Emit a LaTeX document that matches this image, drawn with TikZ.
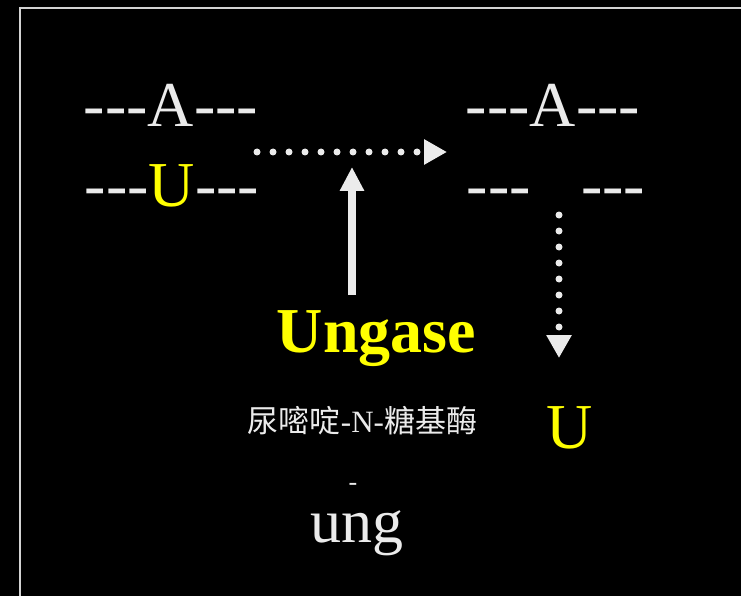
\documentclass[tikz,border=0pt]{standalone}
\usepackage{fontspec}
\setmainfont{Liberation Serif}
\newfontfamily\cjk{Noto Sans CJK SC}
\usetikzlibrary{arrows.meta}

\definecolor{chalk}{HTML}{EBEBEB}
\definecolor{marker}{HTML}{FFFF00}
\newcommand{\strand}{-{}-{}-}

\begin{document}
\begin{tikzpicture}[x=1pt,y=-1pt,
  big/.style={font=\fontsize{64}{70}\selectfont, text=chalk, inner sep=0pt, anchor=base},
  dots/.style={draw=chalk, line width=7pt, line cap=round, dash pattern=on 0pt off 16pt,
    -{Triangle[length=23pt,width=24pt]}},
  push/.style={draw=chalk, line width=8pt, -{Triangle[length=24pt,width=23pt]}}]
\fill[black] (0,0) rectangle (741,596);
\useasboundingbox (0,0) rectangle (741,596);
\draw[chalk!90!black, line width=2pt] (20,8) rectangle (760,620);

% the two strands, before and after
\node[big] (a1) at (171,127) {\strand A\strand};
\node[big] (u1) at (172,207) {\strand{\color{marker}U}\strand};
\node[big] (a2) at (553,127) {\strand A\strand};
\node[big] (gap) at (556,207) {\strand\phantom{U}\hspace{4pt}\strand};

% enzyme
\node[big, text=marker, font=\fontsize{64}{70}\selectfont\bfseries] (ungase) at (376.5,352) {Ungase};
\node[big, font=\fontsize{31}{36}\selectfont] (cn) at (362.5,432) {{\cjk 尿嘧啶}-N-{\cjk 糖基酶}};
\node[big, font=\fontsize{26}{30}\selectfont] (bar) at (353,490) {-};
\node[big, font=\fontsize{62}{70}\selectfont] (ung) at (356.5,542) {ung};

% released base
\node[big, text=marker] (freeu) at (570,448) {U};

\coordinate (h0) at (257,152);
\coordinate (h1) at (447,152);
\coordinate (v0) at (559,215);
\coordinate (v1) at (559,358);
\coordinate (p0) at (352,295);
\coordinate (p1) at (352,167);
\draw[dots] (h0) -- (h1);
\draw[dots] (v0) -- (v1);
\draw[push] (p0) -- (p1);
\end{tikzpicture}
\end{document}
